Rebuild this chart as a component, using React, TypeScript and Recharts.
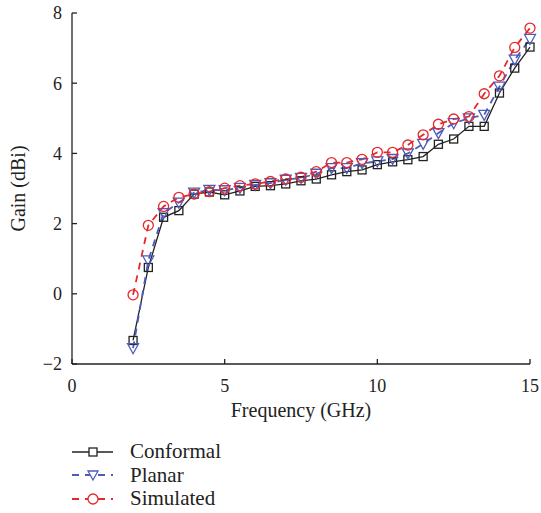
import React from "react";
import { LineChart, Line, XAxis, YAxis, Legend, Label } from "recharts";

// frequency points (GHz)
const freq = [2, 2.5, 3, 3.5, 4, 4.5, 5, 5.5, 6, 6.5, 7, 7.5, 8, 8.5, 9, 9.5, 10, 10.5, 11, 11.5, 12, 12.5, 13, 13.5, 14, 14.5, 15];

const conformal = [-1.33, 0.75, 2.18, 2.37, 2.84, 2.9, 2.82, 2.93, 3.06, 3.08, 3.13, 3.22, 3.27, 3.39, 3.48, 3.53, 3.68, 3.76, 3.82, 3.91, 4.26, 4.41, 4.77, 4.77, 5.72, 6.43, 7.03];
const planar = [-1.55, 0.95, 2.3, 2.6, 2.88, 2.96, 2.95, 3.02, 3.1, 3.15, 3.25, 3.3, 3.42, 3.58, 3.58, 3.72, 3.77, 3.84, 4.0, 4.27, 4.58, 4.86, 5.0, 5.1, 5.9, 6.67, 7.26];
const simulated = [-0.03, 1.95, 2.49, 2.75, 2.84, 2.91, 3.01, 3.08, 3.13, 3.2, 3.27, 3.32, 3.48, 3.74, 3.74, 3.83, 4.03, 4.03, 4.24, 4.53, 4.83, 4.98, 5.05, 5.7, 6.21, 7.02, 7.57];

const xTicks = [0, 5, 10, 15];
const yTicks = [-2, 0, 2, 4, 6, 8];

const data = freq.map((f, i) => ({
  f,
  conformal: conformal[i],
  planar: planar[i],
  simulated: simulated[i],
}));

const BLACK = "#222222";
const BLUE = "#4d5bbd";
const RED = "#e5282a";
const FONT = "'Liberation Serif', 'DejaVu Serif', serif";

const SquareDot = (props: any) => {
  const { cx, cy, key } = props;
  if (cx == null || cy == null) return null;
  return <rect key={key} x={cx - 4} y={cy - 4} width={8} height={8} fill="none" stroke={BLACK} strokeWidth={1.3} />;
};

const TriDot = (props: any) => {
  const { cx, cy, key } = props;
  if (cx == null || cy == null) return null;
  return (
    <polygon
      key={key}
      points={`${cx - 5.5},${cy - 4.5} ${cx + 5.5},${cy - 4.5} ${cx},${cy + 5.5}`}
      fill="none"
      stroke={BLUE}
      strokeWidth={1.3}
    />
  );
};

const CircleDot = (props: any) => {
  const { cx, cy, key } = props;
  if (cx == null || cy == null) return null;
  return <circle key={key} cx={cx} cy={cy} r={5} fill="none" stroke={RED} strokeWidth={1.3} />;
};

const legendItems = [
  { name: "Conformal", color: BLACK, dash: undefined as string | undefined, marker: "square" },
  { name: "Planar", color: BLUE, dash: "7 6", marker: "tri" },
  { name: "Simulated", color: RED, dash: "7 6", marker: "circle" },
];

const CustomLegend = () => (
  <div style={{ fontFamily: FONT, fontSize: 21, color: "#222", lineHeight: 1 }}>
    {legendItems.map((it) => (
      <div key={it.name} style={{ display: "flex", alignItems: "center", height: 23.5 }}>
        <svg width={56} height={20} style={{ marginRight: 4 }}>
          <line x1={2} y1={10} x2={43} y2={10} stroke={it.color} strokeWidth={it.dash ? 1.8 : 1.3} strokeDasharray={it.dash} />
          {it.marker === "square" && <rect x={19} y={6} width={8} height={8} fill="#fff" stroke={it.color} strokeWidth={1.3} />}
          {it.marker === "tri" && <polygon points="18,6 28,6 23,15" fill="#fff" stroke={it.color} strokeWidth={1.3} />}
          {it.marker === "circle" && <circle cx={23} cy={10} r={5} fill="#fff" stroke={it.color} strokeWidth={1.3} />}
        </svg>
        <span>{it.name}</span>
      </div>
    ))}
  </div>
);

const fmt = (v: number) => (v < 0 ? `\u2212${Math.abs(v)}` : `${v}`);

export default function App() {
  return (
    <div style={{ position: "absolute", left: 0, top: 0, width: 541, height: 513, background: "#fff" }}>
      <LineChart width={541} height={513} data={data} margin={{ top: 13, right: 11, bottom: 24, left: 10 }}>
        <XAxis
          dataKey="f"
          type="number"
          domain={[0, 15]}
          ticks={xTicks}
          height={55}
          axisLine={{ stroke: BLACK, strokeWidth: 1.3 }}
          tickLine={{ stroke: BLACK, strokeWidth: 1.3 }}
          tickSize={-5}
          tickMargin={20}
          tick={{ fill: "#222", fontFamily: FONT, fontSize: 18 }}
        >
          <Label value="Frequency (GHz)" position="insideBottom" offset={2} style={{ fill: "#222", fontFamily: FONT, fontSize: 20 }} />
        </XAxis>
        <YAxis
          type="number"
          domain={[-2, 8]}
          ticks={yTicks}
          width={62}
          interval={0}
          tickFormatter={fmt}
          axisLine={{ stroke: BLACK, strokeWidth: 1.3 }}
          tickLine={{ stroke: BLACK, strokeWidth: 1.3 }}
          tickSize={-5}
          tickMargin={15}
          tick={{ fill: "#222", fontFamily: FONT, fontSize: 18 }}
        >
          <Label value="Gain (dBi)" angle={-90} position="insideLeft" offset={8} style={{ fill: "#222", fontFamily: FONT, fontSize: 20, textAnchor: "middle" }} />
        </YAxis>
        <Legend
          content={<CustomLegend />}
          verticalAlign="bottom"
          align="left"
          height={70}
          wrapperStyle={{ left: 70, top: 440, width: 250 }}
        />
        <Line
          dataKey="conformal"
          name="Conformal"
          stroke={BLACK}
          strokeWidth={1.3}
          dot={SquareDot}
          isAnimationActive={false}
        />
        <Line
          dataKey="planar"
          name="Planar"
          stroke={BLUE}
          strokeWidth={1.8}
          strokeDasharray="7 6"
          dot={TriDot}
          isAnimationActive={false}
        />
        <Line
          dataKey="simulated"
          name="Simulated"
          stroke={RED}
          strokeWidth={1.8}
          strokeDasharray="7 6"
          dot={CircleDot}
          isAnimationActive={false}
        />
      </LineChart>
    </div>
  );
}
